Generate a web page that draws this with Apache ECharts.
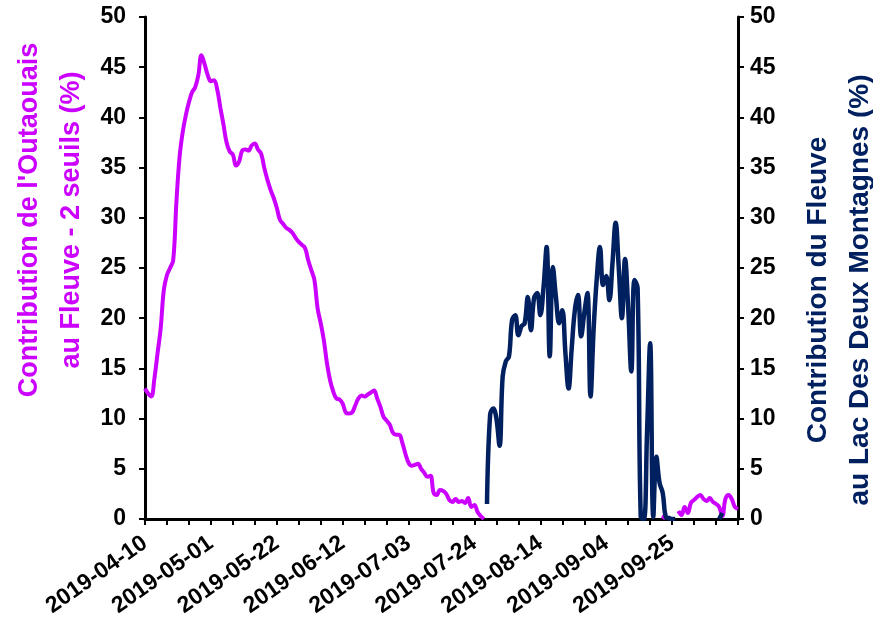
<!DOCTYPE html>
<html>
<head>
<meta charset="utf-8">
<script src="https://cdn.jsdelivr.net/npm/echarts@6/dist/echarts.min.js"></script>
<style>
html,body{margin:0;padding:0;background:#fff;}
#chart{width:873px;height:623px;}
</style>
</head>
<body>
<div id="chart"></div>
<script>
// ---- data ----
const axisStartDate = '2019-04-10';
const axisDayCount = 190;           // 2019-04-10 .. 2019-10-16 (daily categories)
const yTickMin = 0, yTickMax = 50, yTickStep = 5;

const leftAxisTitle = "Contribution de l'Outaouais\nau Fleuve - 2 seuils (%)";
const rightAxisTitle = "Contribution du Fleuve\nau Lac Des Deux Montagnes (%)";

// Outaouais contribution (%), daily, spring/summer segment
const outaouaisSpringStart = '2019-04-10';
const outaouaisSpring = [
  13.0,12.5,12.2,14.0,16.5,19.0,22.8,24.3,25.0,25.8,
  31.5,36.0,38.5,40.2,41.5,42.5,43.0,44.2,46.2,45.3,
  44.2,43.6,43.7,42.8,41.0,39.3,37.5,36.6,36.3,35.2,
  35.6,36.7,36.8,36.7,37.2,37.4,36.8,36.4,35.0,33.8,
  32.8,32.0,31.0,29.8,29.4,29.0,28.8,28.5,28.0,27.6,
  27.3,27.0,25.8,24.8,23.8,21.0,19.5,17.8,15.5,13.8,
  12.7,12.0,11.9,11.5,10.6,10.5,10.6,11.3,12.0,12.3,
  12.2,12.4,12.6,12.8,12.0,11.2,10.2,9.8,9.4,8.6,
  8.4,8.4,7.6,6.5,5.6,5.3,5.4,5.5,5.0,4.6,
  4.2,4.3,2.6,2.4,2.9,2.8,2.5,1.9,1.7,2.0,
  1.7,1.8,1.6,2.1,1.2,1.4,0.7,0.3,0.0
];
// Outaouais contribution (%), daily, autumn segment
const outaouaisAutumnStart = '2019-09-22';
const outaouaisAutumn = [
  0.0,0.6,null,null,null,0.8,0.4,1.2,0.6,1.6,
  1.9,2.2,2.4,2.0,1.8,2.1,1.7,1.5,1.2,0.3,
  2.0,2.4,2.0,1.2,1.0
];
// Fleuve contribution to Lac des Deux Montagnes (%), daily
const fleuveStart = '2019-07-28';
const fleuve = [
  1.5,10.4,11.0,10.0,7.3,14.2,15.7,16.2,19.8,20.3,
  18.3,19.2,19.5,22.1,18.8,22.0,22.5,20.3,23.0,27.1,
  16.2,25.1,22.0,19.5,20.8,16.5,13.0,17.0,20.8,22.3,
  18.2,20.5,22.5,12.2,19.0,24.0,27.1,23.3,24.2,21.8,
  25.5,29.5,25.0,20.0,25.9,21.0,14.7,23.8,23.0,0.2,
  0.0,8.5,17.5,0.2,6.2,3.6,2.6,0.2,0.1,0.0,
  0.0
];
const fleuveLateStart = '2019-10-10';
const fleuveLate = [0.0, 0.6];

// ---- build categories & series ----
function addDays(iso, n) {
  const d = new Date(iso + 'T00:00:00Z');
  d.setUTCDate(d.getUTCDate() + n);
  return d.toISOString().slice(0, 10);
}
const categories = [];
for (let i = 0; i < axisDayCount; i++) categories.push(addDays(axisStartDate, i));
function place(target, startIso, values) {
  const s = categories.indexOf(startIso);
  values.forEach((v, i) => { if (s + i < target.length) target[s + i] = v; });
}
const outaouaisData = new Array(axisDayCount).fill(null);
place(outaouaisData, outaouaisSpringStart, outaouaisSpring);
place(outaouaisData, outaouaisAutumnStart, outaouaisAutumn);
const fleuveData = new Array(axisDayCount).fill(null);
place(fleuveData, fleuveStart, fleuve);
place(fleuveData, fleuveLateStart, fleuveLate);

const MAGENTA = '#CC00FF';
const NAVY = '#002060';
const FONT = '"Liberation Sans", Arial, sans-serif';

const chart = echarts.init(document.getElementById('chart'), null, {renderer: 'canvas'});

function yAxisCfg(pos, title, color, gap, pad, labelMargin, nameSize) {
  return {
    type: 'value', position: pos,
    min: yTickMin, max: yTickMax, interval: yTickStep,
    axisLine: {show: true, onZero: false, lineStyle: {color: '#000', width: 3}},
    axisTick: {show: true, inside: false, length: 6, lineStyle: {color: '#000', width: 2}},
    axisLabel: {color: '#000', fontFamily: FONT, fontWeight: 'bold', fontSize: 23, margin: labelMargin},
    splitLine: {show: false},
    name: title, nameLocation: 'middle', nameGap: gap, nameRotate: 90,
    nameMoveOverlap: false,
    nameTextStyle: {color: color, fontFamily: FONT, fontWeight: 'bold', fontSize: nameSize,
      lineHeight: 42, padding: pad}
  };
}

chart.setOption({
  animation: false,
  backgroundColor: '#fff',
  grid: {left: 145, right: 135, top: 17, bottom: 104, containLabel: false, outerBoundsMode: 'none'},
  xAxis: {
    type: 'category', data: categories, boundaryGap: false,
    axisLine: {show: true, onZero: false, lineStyle: {color: '#000', width: 3}},
    axisTick: {show: true, inside: false, length: 6, alignWithLabel: true,
      interval: (i) => i % 7 === 0, lineStyle: {color: '#000', width: 2}},
    axisLabel: {color: '#000', fontFamily: FONT, fontWeight: 'bold', fontSize: 23,
      rotate: 35, margin: 22, interval: (i) => i % 21 === 0 && i < axisDayCount - 1},
    splitLine: {show: false}
  },
  yAxis: [
    yAxisCfg('left', leftAxisTitle, MAGENTA, 52, [0, 0, 0, 96], 19, 27),
    yAxisCfg('right', rightAxisTitle, NAVY, 59, [0, 44, 0, 0], 12, 28)
  ],
  series: [
    {name: 'Outaouais', type: 'line', yAxisIndex: 0, data: outaouaisData,
     smooth: 0.4, showSymbol: false, connectNulls: false,
     lineStyle: {color: MAGENTA, width: 4}, itemStyle: {color: MAGENTA}},
    {name: 'Fleuve', type: 'line', yAxisIndex: 1, data: fleuveData,
     smooth: 0.4, showSymbol: false, connectNulls: false,
     lineStyle: {color: NAVY, width: 4.5}, itemStyle: {color: NAVY}}
  ]
});
</script>
</body>
</html>
